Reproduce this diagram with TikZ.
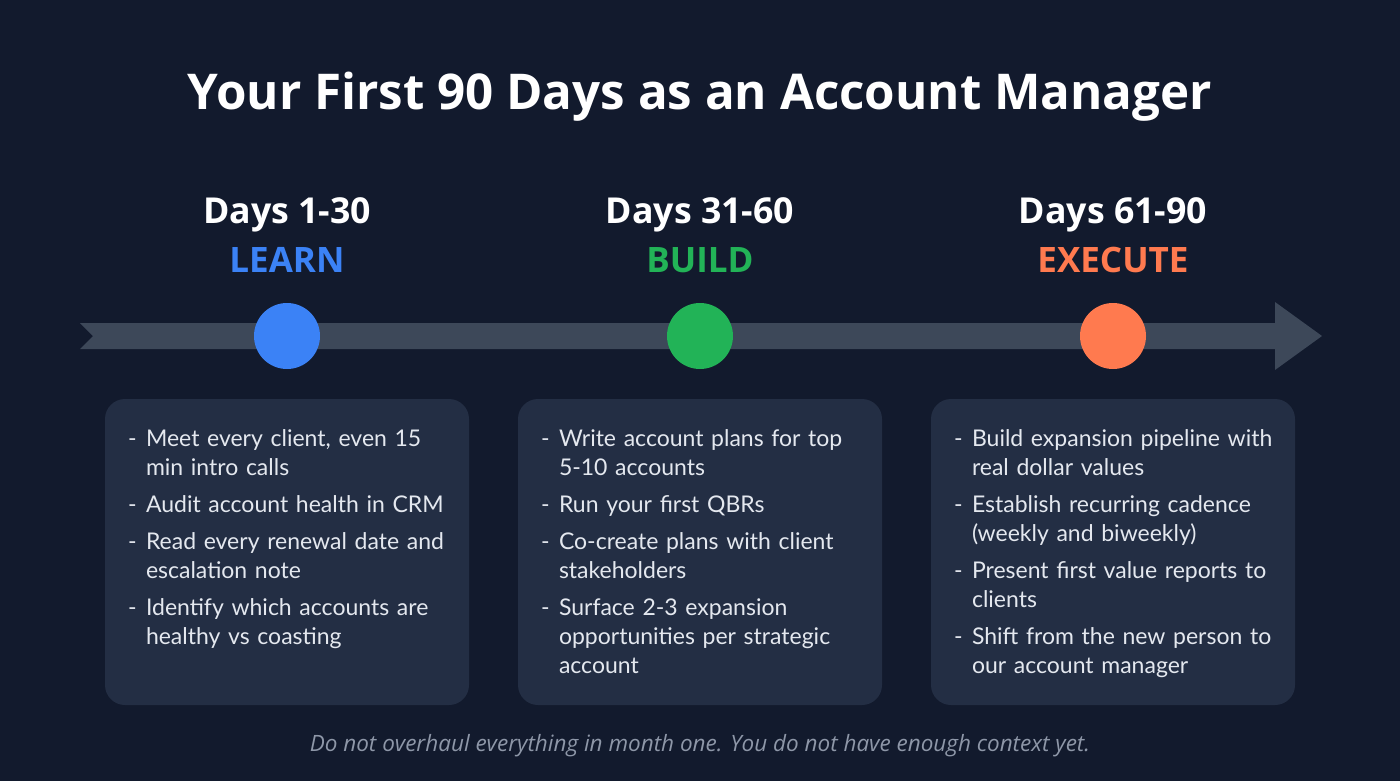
\documentclass[tikz,border=0pt]{standalone}
\usepackage{fontspec}
\setmainfont{Open Sans}
\newfontfamily\bodyfont{Lato}
\usetikzlibrary{positioning}

\definecolor{bgnavy}{HTML}{121A2D}
\definecolor{railgray}{HTML}{3D4859}
\definecolor{cardfill}{HTML}{232E44}
\definecolor{learnblue}{HTML}{3B82F6}
\definecolor{buildgreen}{HTML}{22B357}
\definecolor{execorange}{HTML}{FF7A4F}
\definecolor{bodytext}{HTML}{E4E8EF}
\definecolor{notegray}{HTML}{8E97A8}

% one bullet of a card
\newcommand{\task}[1]{\hangindent=18pt\hangafter=1\noindent\makebox[18pt][l]{-}#1\par}

\tikzset{
  dot/.style={circle,minimum size=66pt,inner sep=0pt},
  card/.style={rounded corners=20pt,fill=cardfill,minimum width=364pt,minimum height=306pt,inner sep=0pt},
  tasks/.style={anchor=north west,text width=340pt,inner sep=0pt,align=left,
    font=\bodyfont\fontsize{23}{29}\selectfont,text=bodytext},
  days/.style={font=\bfseries\fontsize{35.7}{40}\selectfont,text=white},
  phase/.style={font=\bfseries\fontsize{35}{40}\selectfont},
}

\begin{document}
\begin{tikzpicture}[x=1pt,y=-1pt,node distance=413pt]

\fill[bgnavy] (0,0) rectangle (1400,781);
\useasboundingbox (0,0) rectangle (1400,781);

\node[font=\bfseries\fontsize{49.3}{54}\selectfont,text=white] (title) at (700,97)
  {Your First 90 Days as an Account Manager};

% timeline rail
\coordinate (tail) at (80,336);
\coordinate (head) at (1322,336);
\fill[railgray] (tail) ++(0,-13) -- ++(1195,0) -- ++(0,-21) -- (head)
  -- ++(-47,34) -- ++(0,-21) -- ++(-1195,0) -- ++(13,-13) -- cycle;

\node[dot,fill=learnblue]  (learn)   at (287,336) {};
\node[dot,fill=buildgreen] (build)   [right of=learn] {};
\node[dot,fill=execorange] (execute) [right of=build] {};

\node[phase,text=learnblue]  (learnlbl)   [above of=learn,node distance=76pt]   {LEARN};
\node[phase,text=buildgreen] (buildlbl)   [above of=build,node distance=76pt]   {BUILD};
\node[phase,text=execorange] (executelbl) [above of=execute,node distance=76pt] {EXECUTE};

\node[days] (learndays)   [above of=learn,node distance=121pt]   {Days 1-30};
\node[days] (builddays)   [above of=build,node distance=121pt]   {Days 31-60};
\node[days] (executedays) [above of=execute,node distance=121pt] {Days 61-90};

\node[card] (learncard)   [below of=learn,node distance=216pt]   {};
\node[card] (buildcard)   [below of=build,node distance=216pt]   {};
\node[card] (executecard) [below of=execute,node distance=216pt] {};

\node[tasks] (learntasks) at ([xshift=23pt,yshift=-31pt]learncard.north west) {%
  \task{Meet every client, even 15\newline min intro calls}\vspace{8pt}
  \task{Audit account health in CRM}\vspace{8pt}
  \task{Read every renewal date and\newline escalation note}\vspace{8pt}
  \task{Identify which accounts are\newline healthy vs coasting}};
\node[tasks] (buildtasks) at ([xshift=23pt,yshift=-31pt]buildcard.north west) {%
  \task{Write account plans for top\newline 5-10 accounts}\vspace{8pt}
  \task{Run your first QBRs}\vspace{8pt}
  \task{Co-create plans with client\newline stakeholders}\vspace{8pt}
  \task{Surface 2-3 expansion\newline opportunities per strategic\newline account}};
\node[tasks] (executetasks) at ([xshift=23pt,yshift=-31pt]executecard.north west) {%
  \task{Build expansion pipeline with\newline real dollar values}\vspace{8pt}
  \task{Establish recurring cadence\newline (weekly and biweekly)}\vspace{8pt}
  \task{Present first value reports to\newline clients}\vspace{8pt}
  \task{Shift from the new person to\newline our account manager}};

\node[font=\itshape\fontsize{22.5}{26}\selectfont,text=notegray] (note) at (700,746)
  {Do not overhaul everything in month one. You do not have enough context yet.};

\end{tikzpicture}
\end{document}
